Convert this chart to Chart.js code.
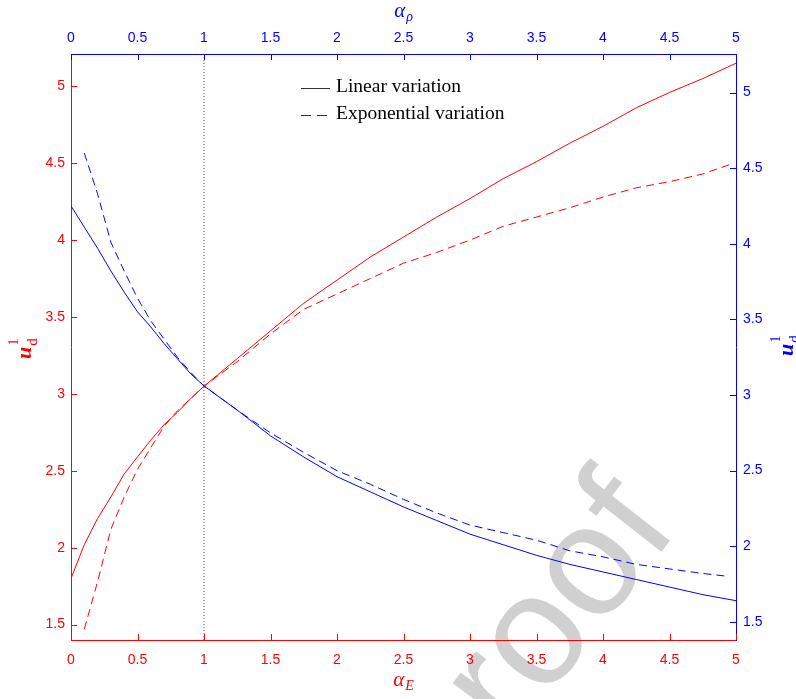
<!DOCTYPE html>
<html>
<head>
<meta charset="utf-8">
<script src="https://cdn.jsdelivr.net/npm/chart.js@4.4.1/dist/chart.umd.min.js"></script>
<style>
html,body{margin:0;padding:0;background:#fff;}
canvas{display:block;}
</style>
</head>
<body>
<canvas id="c" width="796" height="699"></canvas>
<script>
// ---- data ----
// red curves: u_d^1 vs alpha_E (bottom / left axes)
const redLinX = [0,0.1,0.2,0.3,0.4,0.5,0.6,0.7,0.8,0.9,1.0,1.25,1.5,1.75,2.0,2.25,2.5,2.75,3.0,3.25,3.5,3.75,4.0,4.25,4.5,4.75,5.0];
const redLinY = [1.80,2.02,2.19,2.33,2.48,2.59,2.70,2.80,2.88,2.97,3.05,3.23,3.41,3.59,3.74,3.89,4.02,4.15,4.27,4.40,4.51,4.63,4.74,4.86,4.96,5.05,5.15];
const redExpX = [0.1,0.2,0.3,0.4,0.5,0.6,0.7,0.8,0.9,1.0,1.25,1.5,1.75,2.0,2.25,2.5,2.75,3.0,3.25,3.5,3.75,4.0,4.25,4.5,4.75,4.95];
const redExpY = [1.47,1.78,2.12,2.33,2.51,2.65,2.79,2.89,2.97,3.05,3.21,3.39,3.55,3.65,3.75,3.85,3.92,4.00,4.09,4.15,4.21,4.28,4.34,4.38,4.43,4.49];
// blue curves: u_d^1 vs alpha_rho (top / right axes)
const blueLinX = [0,0.1,0.2,0.3,0.4,0.5,0.6,0.7,0.8,0.9,1.0,1.25,1.5,1.75,2.0,2.25,2.5,2.75,3.0,3.25,3.5,3.75,4.0,4.25,4.5,4.75,5.0];
const blueLinY = [4.25,4.11,3.97,3.82,3.68,3.55,3.45,3.34,3.24,3.14,3.06,2.90,2.73,2.59,2.46,2.36,2.26,2.17,2.08,2.01,1.94,1.88,1.83,1.78,1.73,1.68,1.64];
const blueExpX = [0.1,0.2,0.3,0.4,0.5,0.6,0.7,0.8,0.9,1.0,1.25,1.5,1.75,2.0,2.25,2.5,2.75,3.0,3.25,3.5,3.75,4.0,4.25,4.5,4.75,4.95];
const blueExpY = [4.60,4.33,4.01,3.82,3.64,3.49,3.37,3.25,3.15,3.06,2.90,2.75,2.62,2.50,2.41,2.31,2.22,2.14,2.09,2.04,1.97,1.93,1.88,1.85,1.82,1.80];
// ticks
const xTickVals = [0,0.5,1,1.5,2,2.5,3,3.5,4,4.5,5];
const yLeftTickVals = [1.5,2,2.5,3,3.5,4,4.5,5];
const yRightTickVals = [1.5,2,2.5,3,3.5,4,4.5,5];
const refLineX = [1,1];
const legendLabels = ['Linear variation','Exponential variation'];

const RED = 'rgb(255,0,0)', BLUE = 'rgb(0,0,255)';
const LEFT_MIN = 1.40, LEFT_MAX = 5.21, RIGHT_MIN = 1.38, RIGHT_MAX = 5.255;

const pts = (xs, ys) => xs.map((x,i)=>({x:x, y:ys[i]}));
const tickFont = {family:'Liberation Sans', size:14};

function axisCfg(pos, color, min, max, vals, pad, size){
  const horiz = (pos==='top'||pos==='bottom');
  return {
    type:'linear', position:pos, min:min, max:max,
    afterBuildTicks: s => { s.ticks = vals.map(v=>({value:v})); },
    afterFit: s => { if (horiz) s.height = size; else s.width = size; },
    grid:{display:false, drawTicks:false},
    border:{display:true, color:color, width:1},
    ticks:{color:color, font:tickFont, padding:pad, maxRotation:0, autoSkip:false, callback: v => String(v)}
  };
}

const inwardTicks = {
  id:'inwardTicks',
  afterDatasetsDraw(chart){
    const ctx = chart.ctx, a = chart.chartArea, L = 6;
    const defs = [['x',RED],['x2',BLUE],['y',RED],['y2',BLUE]];
    ctx.save();
    ctx.lineWidth = 1;
    defs.forEach(([id,col])=>{
      const s = chart.scales[id];
      ctx.strokeStyle = col;
      ctx.beginPath();
      s.ticks.forEach(t=>{
        const p = Math.round(s.getPixelForValue(t.value)) + 0.5;
        if (id==='x'){ ctx.moveTo(p, a.bottom); ctx.lineTo(p, a.bottom-L); }
        else if (id==='x2'){ ctx.moveTo(p, a.top); ctx.lineTo(p, a.top+L); }
        else if (id==='y'){ ctx.moveTo(a.left, p); ctx.lineTo(a.left+L, p); }
        else { ctx.moveTo(a.right, p); ctx.lineTo(a.right-L, p); }
      });
      ctx.stroke();
    });
    ctx.restore();
  }
};

const watermark = {
  id:'watermark',
  beforeDraw(chart){
    const ctx = chart.ctx;
    ctx.save();
    ctx.fillStyle = 'rgb(208,208,208)';
    ctx.font = '158px "Liberation Sans"';
    ctx.textBaseline = 'alphabetic';
    ctx.translate(458, 812);
    ctx.rotate(-52*Math.PI/180);
    ctx.fillText('proof', 0, 0);
    ctx.restore();
  }
};

function drawULabel(ctx, cx, cy, color){
  ctx.save();
  ctx.translate(cx, cy);
  ctx.rotate(-Math.PI/2);
  ctx.fillStyle = color;
  ctx.textBaseline = 'middle';
  ctx.textAlign = 'center';
  ctx.font = 'bold italic 22px "Liberation Serif"';
  ctx.fillText('u', 0, 0);
  ctx.font = '14px "Liberation Serif"';
  ctx.fillText('1', 11, -11);
  ctx.font = '15px "Liberation Serif"';
  ctx.fillText('d', 11, 8);
  ctx.restore();
}
function drawAlpha(ctx, cx, cy, sub, color){
  ctx.save();
  ctx.fillStyle = color;
  ctx.textBaseline = 'alphabetic';
  ctx.textAlign = 'left';
  ctx.font = 'italic 21px "Liberation Serif"';
  const w = ctx.measureText('\u03B1').width;
  ctx.font = 'italic 14px "Liberation Serif"';
  const w2 = ctx.measureText(sub).width;
  const x0 = cx - (w + w2)/2;
  ctx.font = 'italic 21px "Liberation Serif"';
  ctx.fillText('\u03B1', x0, cy + 5);
  ctx.font = 'italic 14px "Liberation Serif"';
  ctx.fillText(sub, x0 + w + 1, cy + 9);
  ctx.restore();
}

const labels = {
  id:'labels',
  afterDraw(chart){
    const ctx = chart.ctx;
    drawAlpha(ctx, 403, 681, 'E', RED);
    drawAlpha(ctx, 403, 12, '\u03C1', BLUE);
    drawULabel(ctx, 25, 353, RED);
    drawULabel(ctx, 787, 350, BLUE);
    // legend
    ctx.save();
    ctx.strokeStyle = '#333';
    ctx.lineWidth = 1;
    ctx.beginPath(); ctx.moveTo(301, 88.5); ctx.lineTo(330, 88.5); ctx.stroke();
    ctx.beginPath(); ctx.moveTo(301, 115.5); ctx.lineTo(311, 115.5);
    ctx.moveTo(317, 115.5); ctx.lineTo(327, 115.5); ctx.stroke();
    ctx.fillStyle = '#000';
    ctx.font = '19.5px "Liberation Serif"';
    ctx.textBaseline = 'middle';
    ctx.textAlign = 'left';
    ctx.fillText(legendLabels[0], 336, 87);
    ctx.fillText(legendLabels[1], 336, 114);
    ctx.restore();
  }
};

const lineDs = (label, data, color, xid, yid, dash) => ({
  label, data, borderColor: color, borderWidth: 1, pointRadius: 0, tension: 0, fill: false,
  borderDash: dash || [], xAxisID: xid, yAxisID: yid
});

new Chart(document.getElementById('c'), {
  type:'line',
  data:{
    datasets:[
      lineDs('ref', refLineX.map((x,i)=>({x:x, y:[LEFT_MIN, LEFT_MAX][i]})), '#555', 'x', 'y', [1,2]),
      lineDs('Linear variation (α_E)', pts(redLinX, redLinY), RED, 'x', 'y'),
      lineDs('Exponential variation (α_E)', pts(redExpX, redExpY), RED, 'x', 'y', [8,5]),
      lineDs('Linear variation (α_ρ)', pts(blueLinX, blueLinY), BLUE, 'x2', 'y2'),
      lineDs('Exponential variation (α_ρ)', pts(blueExpX, blueExpY), BLUE, 'x2', 'y2', [8,5])
    ]
  },
  options:{
    responsive:false, animation:false, devicePixelRatio:1,
    layout:{padding:0},
    plugins:{legend:{display:false}, tooltip:{enabled:false}},
    scales:{
      x: axisCfg('bottom', RED, 0, 5, xTickVals, 12, 59),
      x2: axisCfg('top', BLUE, 0, 5, xTickVals, 7, 54),
      y: axisCfg('left', RED, LEFT_MIN, LEFT_MAX, yLeftTickVals, 6, 71),
      y2: axisCfg('right', BLUE, RIGHT_MIN, RIGHT_MAX, yRightTickVals, 7, 60)
    }
  },
  plugins:[watermark, inwardTicks, labels]
});
</script>
</body>
</html>
